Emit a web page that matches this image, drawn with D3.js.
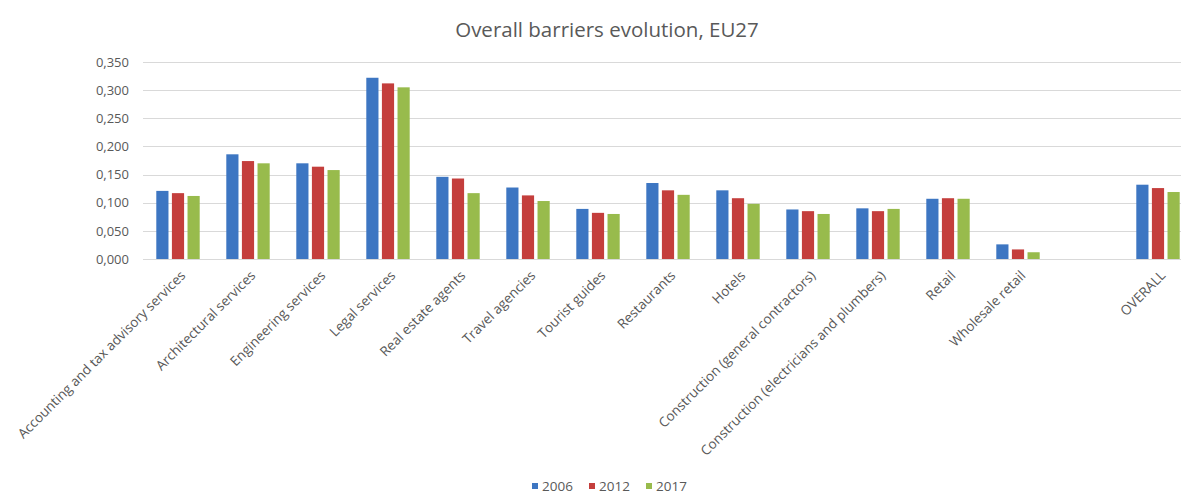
<!DOCTYPE html>
<html>
<head>
<meta charset="utf-8">
<title>Overall barriers evolution, EU27</title>
<script src="https://cdnjs.cloudflare.com/ajax/libs/d3/7.8.5/d3.min.js"></script>
<style>
body {
  margin: 0;
  background: #fff;
}
svg text {
  font-family: "Open Sans", sans-serif;
  fill: #595959;
}
.grid line {
  stroke: #d9d9d9;
  stroke-width: 1px;
}
</style>
</head>
<body>
<div id="chart"></div>
<script>
var categories = ["Accounting and tax advisory services", "Architectural services", "Engineering services",
  "Legal services", "Real estate agents", "Travel agencies", "Tourist guides", "Restaurants", "Hotels",
  "Construction (general contractors)", "Construction (electricians and plumbers)", "Retail",
  "Wholesale retail", "", "OVERALL"];
var years = ["2006", "2012", "2017"];
var values2006 = [0.121, 0.186, 0.170, 0.322, 0.146, 0.127, 0.089, 0.135, 0.122, 0.088, 0.090, 0.107, 0.026, null, 0.132];
var values2012 = [0.117, 0.174, 0.164, 0.312, 0.143, 0.113, 0.082, 0.122, 0.108, 0.085, 0.085, 0.108, 0.017, null, 0.126];
var values2017 = [0.112, 0.170, 0.158, 0.305, 0.117, 0.103, 0.080, 0.114, 0.098, 0.080, 0.089, 0.107, 0.012, null, 0.119];
var yTicks = [0, 0.05, 0.10, 0.15, 0.20, 0.25, 0.30, 0.35];
var colors = ["#3d76c2", "#c43e3c", "#98bb4c"];

var width = 1181, height = 495;
var plotLeft = 143, plotRight = 1193, plotTop = 62, plotBottom = 259;

var series = [values2006, values2012, values2017];
var rows = categories.map(function(c, i) {
  return {cat: c, vals: years.map(function(yr, j) { return {year: yr, v: series[j][i]}; })};
});

var svg = d3.select("#chart").append("svg")
  .attr("width", width)
  .attr("height", height);

var x = d3.scaleBand()
  .domain(categories)
  .range([plotLeft, plotRight])
  .paddingInner(0.38)
  .paddingOuter(0.19);

var xSub = d3.scaleBand()
  .domain(years)
  .range([0, x.bandwidth()])
  .paddingInner(0.22);

var y = d3.scaleLinear()
  .domain([0, 0.35])
  .range([plotBottom, plotTop]);

var fmt = d3.formatLocale({decimal: ",", thousands: ".", grouping: [3], currency: ["", ""]}).format(".3f");

// title
svg.append("text")
  .attr("x", 607)
  .attr("y", 37)
  .attr("text-anchor", "middle")
  .style("font-size", "20.5px")
  .text("Overall barriers evolution, EU27");

// gridlines
svg.append("g")
  .attr("class", "grid")
  .selectAll("line")
  .data(yTicks)
  .enter().append("line")
    .attr("x1", plotLeft)
    .attr("x2", plotRight)
    .attr("y1", function(d) { return Math.round(y(d)) + 0.5; })
    .attr("y2", function(d) { return Math.round(y(d)) + 0.5; });

// y axis labels
var yAxis = d3.axisLeft(y).tickValues(yTicks).tickFormat(fmt).tickSize(0).tickPadding(14);
svg.append("g")
  .attr("transform", "translate(" + plotLeft + ",0)")
  .call(yAxis)
  .call(function(g) { g.select(".domain").remove(); })
  .selectAll("text")
    .style("font-size", "13px")
    .style("font-family", "'Open Sans', sans-serif")
    .style("fill", "#595959");

// bars
var groups = svg.append("g").selectAll("g")
  .data(rows)
  .enter().append("g")
    .attr("transform", function(d) { return "translate(" + x(d.cat) + ",0)"; });

groups.selectAll("rect")
  .data(function(d) { return d.vals.filter(function(v) { return v.v != null; }); })
  .enter().append("rect")
    .attr("x", function(d) { return xSub(d.year); })
    .attr("y", function(d) { return y(d.v); })
    .attr("width", xSub.bandwidth())
    .attr("height", function(d) { return y(0) - y(d.v); })
    .attr("fill", function(d) { return colors[years.indexOf(d.year)]; });

// x labels
svg.append("g").selectAll("text")
  .data(categories)
  .enter().append("text")
    .attr("transform", function(d) {
      return "translate(" + (x(d) + x.bandwidth() / 2 + 5) + "," + (plotBottom + 14) + ") rotate(-45)";
    })
    .attr("text-anchor", "end")
    .attr("dy", "0.35em")
    .style("font-size", "13.5px")
    .text(function(d) { return d; });

// legend
var legend = svg.append("g").selectAll("g")
  .data(years)
  .enter().append("g")
    .attr("transform", function(d, i) { return "translate(" + (532 + i * 57) + ",486)"; });
legend.append("rect")
  .attr("x", 0)
  .attr("y", -3)
  .attr("width", 6)
  .attr("height", 6)
  .attr("fill", function(d, i) { return colors[i]; });
legend.append("text")
  .attr("x", 10)
  .attr("dy", "0.35em")
  .style("font-size", "13.5px")
  .text(function(d) { return d; });
</script>
</body>
</html>
